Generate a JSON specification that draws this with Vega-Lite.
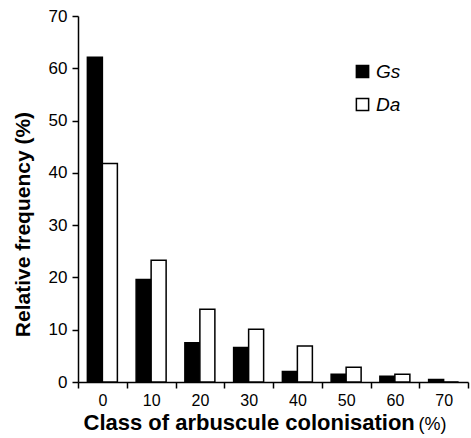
{
  "$schema": "https://vega.github.io/schema/vega-lite/v6.json",
  "width": 390,
  "height": 366,
  "autosize": "none",
  "padding": {"left": 78, "top": 16, "right": 3, "bottom": 56},
  "config": {
    "font": "Liberation Sans",
    "view": {"stroke": null},
    "axis": {"grid": false, "domainColor": "black", "tickColor": "black", "labelColor": "black", "titleColor": "black", "domainWidth": 1.5, "tickWidth": 1.5}
  },
  "data": {
    "values": [
      {"cls": 0, "series": "Gs", "freq": 62.1},
      {"cls": 0, "series": "Da", "freq": 41.8},
      {"cls": 10, "series": "Gs", "freq": 19.6},
      {"cls": 10, "series": "Da", "freq": 23.3},
      {"cls": 20, "series": "Gs", "freq": 7.5},
      {"cls": 20, "series": "Da", "freq": 13.9},
      {"cls": 30, "series": "Gs", "freq": 6.6},
      {"cls": 30, "series": "Da", "freq": 10.1},
      {"cls": 40, "series": "Gs", "freq": 2.0},
      {"cls": 40, "series": "Da", "freq": 6.9},
      {"cls": 50, "series": "Gs", "freq": 1.5},
      {"cls": 50, "series": "Da", "freq": 2.8},
      {"cls": 60, "series": "Gs", "freq": 1.1},
      {"cls": 60, "series": "Da", "freq": 1.5},
      {"cls": 70, "series": "Gs", "freq": 0.5},
      {"cls": 70, "series": "Da", "freq": 0}
    ]
  },
  "layer": [
    {
      "mark": {"type": "bar", "stroke": "black", "strokeWidth": 1.5},
      "encoding": {
        "x": {
          "field": "cls",
          "type": "ordinal",
          "scale": {"paddingInner": 0, "paddingOuter": 0},
          "axis": {
            "orient": "bottom",
            "title": "Class of arbuscule colonisation",
            "titleFontSize": 22,
            "titleFontWeight": "bold",
            "titleAnchor": "start",
            "titleAlign": "left",
            "titleBaseline": "alphabetic",
            "titleX": 5,
            "titleY": 47,
            "labelFontSize": 16,
            "labelAngle": 0,
            "labelPadding": 4,
            "tickBand": "extent",
            "tickSize": 6
          }
        },
        "xOffset": {"field": "series", "type": "nominal", "sort": ["Gs", "Da"], "scale": {"paddingInner": 0, "paddingOuter": 0.625}},
        "y": {
          "field": "freq",
          "type": "quantitative",
          "scale": {"domain": [0, 70]},
          "axis": {
            "title": "Relative frequency (%)",
            "titleFontSize": 21,
            "titleFontWeight": "bold",
            "titleAngle": 270,
            "titleAlign": "center",
            "titleBaseline": "alphabetic",
            "titleX": -49,
            "titleY": 208,
            "labelFontSize": 17,
            "values": [0, 10, 20, 30, 40, 50, 60, 70],
            "tickSize": 6,
            "labelPadding": 5
          }
        },
        "fill": {
          "field": "series",
          "type": "nominal",
          "sort": ["Gs", "Da"],
          "scale": {"domain": ["Gs", "Da"], "range": ["black", "white"]},
          "legend": {
            "title": null,
            "orient": "none",
            "legendX": 275,
            "legendY": 46,
            "symbolType": "square",
            "symbolSize": 150,
            "symbolStrokeColor": "black",
            "symbolStrokeWidth": 1.5,
            "labelFontSize": 19,
            "labelFontStyle": "italic",
            "labelColor": "black",
            "labelOffset": 4,
            "rowPadding": 13
          }
        }
      }
    },
    {
      "mark": {"type": "bar", "opacity": 0},
      "encoding": {
        "x": {
          "field": "cls",
          "type": "ordinal",
          "scale": {"paddingInner": 0, "paddingOuter": 0},
          "axis": {
            "orient": "bottom",
            "title": "(%)",
            "titleFontSize": 18,
            "titleFontWeight": "normal",
            "titleAnchor": "start",
            "titleAlign": "left",
            "titleBaseline": "alphabetic",
            "titleX": 340,
            "titleY": 47,
            "labels": false,
            "ticks": false,
            "domain": false
          }
        },
        "y": {"field": "freq", "type": "quantitative"}
      }
    }
  ],
  "resolve": {"scale": {"x": "independent"}, "axis": {"x": "independent"}}
}
